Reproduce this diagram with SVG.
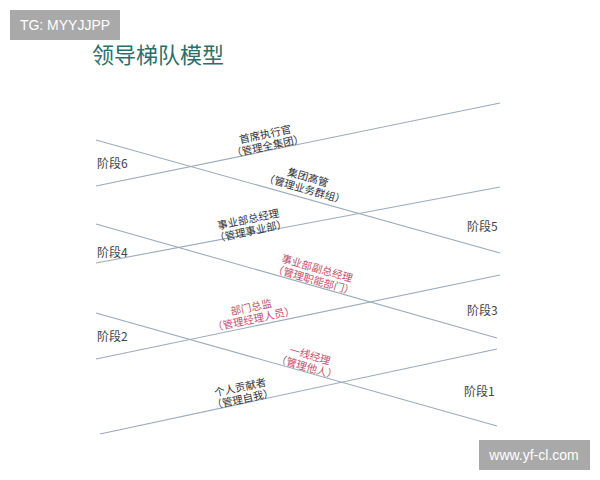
<svg xmlns="http://www.w3.org/2000/svg" width="600" height="480" viewBox="0 0 600 480">
<style>
.ln{stroke:#9aabbd;stroke-width:1.1;fill:none}
.st{font-family:"Noto Sans CJK SC","Liberation Sans",sans-serif;font-size:12px;fill:#444}
.lb{font-family:"Noto Sans CJK SC",sans-serif;font-size:10.5px;fill:#333;text-anchor:middle}
.rd{fill:#c4506c}
.wm{fill:#a9a9a9}
.wt{font-family:"Liberation Sans",sans-serif;font-size:14px;fill:#fff;text-anchor:middle}
</style>
<rect width="600" height="480" fill="#fff"/>
<g id="watermark-tg"><rect class="wm" x="10" y="10" width="110" height="30"/><text class="wt" x="65" y="30">TG: MYYJJPP</text></g>
<g id="watermark-url"><rect class="wm" x="479" y="440" width="111" height="30"/><text class="wt" x="534" y="460">www.yf-cl.com</text></g>
<text id="title" x="92" y="63" font-family="Noto Sans CJK SC,sans-serif" font-size="22" fill="#2b6f6a">领导梯队模型</text>
<g id="connectors">
<line class="ln" x1="96" y1="186" x2="500" y2="103"/>
<line class="ln" x1="96" y1="140" x2="500" y2="253"/>
<line class="ln" x1="96" y1="263" x2="500" y2="187"/>
<line class="ln" x1="96" y1="224" x2="497" y2="338"/>
<line class="ln" x1="96" y1="359" x2="500" y2="275"/>
<line class="ln" x1="96" y1="313" x2="497" y2="426"/>
<line class="ln" x1="100" y1="434" x2="497" y2="349"/>
</g>
<g id="stages">
<text class="st" x="97" y="168">阶段6</text>
<text class="st" x="97" y="257">阶段4</text>
<text class="st" x="97" y="341">阶段2</text>
<text class="st" x="467" y="231">阶段5</text>
<text class="st" x="467" y="315">阶段3</text>
<text class="st" x="464" y="396">阶段1</text>
</g>
<g id="ceo" transform="translate(266,138) rotate(-12)"><text class="lb" x="0" y="0">首席执行官</text><text class="lb" x="0" y="12">（管理全集团）</text></g>
<g id="group-exec" transform="translate(307,181) rotate(16)"><text class="lb" x="0" y="0">集团高管</text><text class="lb" x="0" y="12">（管理业务群组）</text></g>
<g id="bu-gm" transform="translate(249,223) rotate(-12)"><text class="lb" x="0" y="0">事业部总经理</text><text class="lb" x="0" y="12">（管理事业部）</text></g>
<g id="bu-deputy" transform="translate(316,272) rotate(16)"><text class="lb rd" x="0" y="0">事业部副总经理</text><text class="lb rd" x="0" y="12">（管理职能部门）</text></g>
<g id="dept-director" transform="translate(252,311) rotate(-12)"><text class="lb rd" x="0" y="0">部门总监</text><text class="lb rd" x="0" y="12">（管理经理人员）</text></g>
<g id="frontline" transform="translate(309,359) rotate(16)"><text class="lb rd" x="0" y="0">一线经理</text><text class="lb rd" x="0" y="12">（管理他人）</text></g>
<g id="individual" transform="translate(241,391) rotate(-12)"><text class="lb" x="0" y="0">个人贡献者</text><text class="lb" x="0" y="12">（管理自我）</text></g>
</svg>
